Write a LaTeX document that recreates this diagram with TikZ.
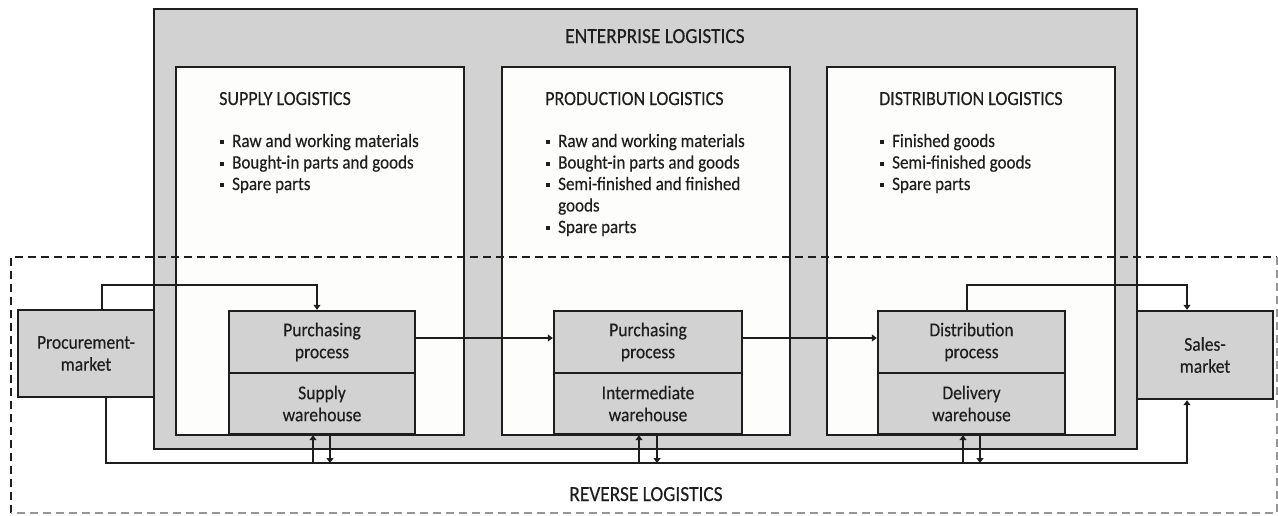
\documentclass[tikz,border=0pt]{standalone}
\usepackage{fontspec}
\setmainfont{Carlito}[FakeStretch=0.9, FakeBold=0.3]
\usetikzlibrary{arrows.meta}
\definecolor{panel}{RGB}{210,210,210}
\definecolor{ink}{RGB}{30,30,30}
\definecolor{paper}{RGB}{253,253,251}
\definecolor{faint}{RGB}{150,150,150}
\newcommand\sqbullet{\makebox[12pt][l]{\rule[3pt]{4pt}{4pt}}}

\begin{document}
\begin{tikzpicture}[x=1pt,y=-1pt,
  frame/.style={draw=ink, line width=2.4pt},
  area/.style={frame, fill=panel, inner sep=0pt},
  sheet/.style={frame, fill=paper, inner sep=0pt},
  cell/.style={frame, fill=panel, inner sep=0pt, align=center, text=ink,
    font=\fontsize{19.5}{22}\selectfont},
  banner/.style={anchor=base, inner sep=0pt, text=ink,
    font=\fontsize{21.5}{24}\selectfont},
  heading/.style={anchor=base west, inner sep=0pt, text=ink,
    font=\fontsize{20}{22}\selectfont},
  item/.style={anchor=base west, inner sep=0pt, text=ink,
    font=\fontsize{18.9}{21.5}\selectfont},
  link/.style={draw=ink, line width=2pt},
  tip/.style={-{Triangle[length=5pt,width=7pt]}},
  bordure/.style={dash pattern=on 8pt off 5pt, line width=2pt}]

\useasboundingbox (0,0) rectangle (1278,515);
\fill[white] (0,0) rectangle (1278,515);

% enterprise frame and its three areas
\node[area, minimum width=983pt, minimum height=440pt] (ent) at (645.5,229) {};
\node[banner] (enttitle) at (655,43) {ENTERPRISE LOGISTICS};

\node[sheet, minimum width=288pt, minimum height=368pt] (sup) at (320,251) {};
\node[sheet, minimum width=288pt, minimum height=368pt] (pro) at (646,251) {};
\node[sheet, minimum width=288pt, minimum height=368pt] (dis) at (971,251) {};

% headings and item lists
\node[heading] (suph) at (219,105) {SUPPLY LOGISTICS};
\node[item] (sup1) at (220,147) {\sqbullet Raw and working materials};
\node[item] (sup2) at (220,168.5) {\sqbullet Bought-in parts and goods};
\node[item] (sup3) at (220,190) {\sqbullet Spare parts};

\node[heading] (proh) at (545,105) {PRODUCTION LOGISTICS};
\node[item] (pro1) at (546,147) {\sqbullet Raw and working materials};
\node[item] (pro2) at (546,168.5) {\sqbullet Bought-in parts and goods};
\node[item] (pro3) at (546,190) {\sqbullet Semi-finished and finished};
\node[item] (pro4) at (558,211.5) {goods};
\node[item] (pro5) at (546,233) {\sqbullet Spare parts};

\node[heading] (dish) at (879,105) {DISTRIBUTION LOGISTICS};
\node[item] (dis1) at (880,147) {\sqbullet Finished goods};
\node[item] (dis2) at (880,168.5) {\sqbullet Semi-finished goods};
\node[item] (dis3) at (880,190) {\sqbullet Spare parts};

% markets
\node[cell, minimum width=136pt, minimum height=87pt] (proc) at (86,353.5) {Procurement-\\market};
\node[cell, minimum width=136pt, minimum height=88pt] (sm) at (1205,355) {Sales-\\market};

% process / warehouse pairs
\node[cell, minimum width=186pt, minimum height=62pt] (sp) at (322,342) {Purchasing\\process};
\node[cell, minimum width=186pt, minimum height=61pt] (sw) at (322,403.5) {Supply\\warehouse};
\node[cell, minimum width=188pt, minimum height=62pt] (pp) at (648,342) {Purchasing\\process};
\node[cell, minimum width=188pt, minimum height=61pt] (pw) at (648,403.5) {Intermediate\\warehouse};
\node[cell, minimum width=187pt, minimum height=62pt] (dp) at (971.5,342) {Distribution\\process};
\node[cell, minimum width=187pt, minimum height=61pt] (dw) at (971.5,403.5) {Delivery\\warehouse};

% routing points
\coordinate (a1) at (102,285);
\coordinate (a2) at (317,285);
\coordinate (b1) at (967,285);
\coordinate (b2) at (1187,285);
\coordinate (h) at (0,338);
\coordinate (r1) at (106,463);
\coordinate (r2) at (1187,463);

% forward flow
\draw[link, tip] (proc.north -| a1) -- (a1) -- (a2) -- (a2 |- sp.north);
\draw[link, tip] (sp.east |- h) -- (pp.west |- h);
\draw[link, tip] (pp.east |- h) -- (dp.west |- h);
\draw[link, tip] (dp.north -| b1) -- (b1) -- (b2) -- (b2 |- sm.north);

% return flow
\draw[link, tip] (proc.south -| r1) -- (r1) -- (r2) -- (r2 |- sm.south);
\foreach \w/\u/\d in {sw/313/330, pw/639/657, dw/963/980}{
  \draw[link, tip] (\u,463) -- (\w.south -| \u,463);
  \draw[link, tip] (\w.south -| \d,463) -- (\d,463);
}

% reverse logistics boundary
\draw[bordure, draw=ink] (11,513) -- (11,257) -- (1277,257);
\draw[bordure, draw=faint] (1277,257) -- (1277,513) -- (11,513);
\node[banner] (revtitle) at (646,501) {REVERSE LOGISTICS};
\end{tikzpicture}
\end{document}
